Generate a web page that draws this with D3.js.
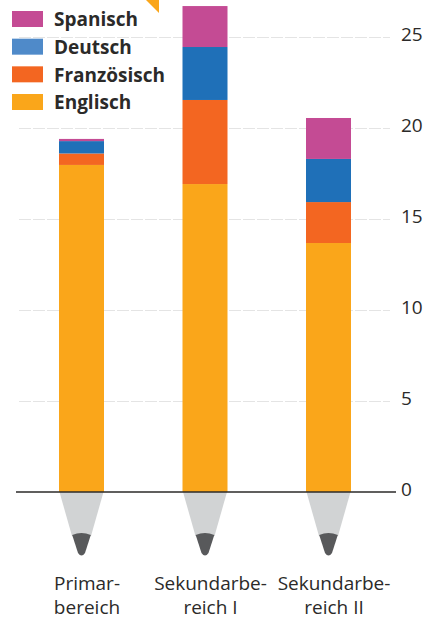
<!DOCTYPE html>
<html lang="de">
<head>
<meta charset="UTF-8">
<title>Fremdsprachen</title>
<script src="https://cdn.jsdelivr.net/npm/d3@7/dist/d3.min.js"></script>
<style>
    html, body { margin: 0; padding: 0; background: #fff; }
    svg { display: block; }
    text { font-family: "Open Sans", "Noto Sans", sans-serif; fill: #2b2a29; }
</style>
</head>
<body>
<svg id="chart" width="433" height="620"></svg>
<script>
    // values
    const categories = ["Primarbereich", "Sekundarbereich I", "Sekundarbereich II"];
    const categoryLines = [["Primar-", "bereich"], ["Sekundarbe-", "reich I"], ["Sekundarbe-", "reich II"]];
    const seriesNames = ["Englisch", "Französisch", "Deutsch", "Spanisch"];
    const englisch = [17.97, 16.92, 13.68];
    const franzoesisch = [0.63, 4.62, 2.25];
    const deutsch = [0.68, 2.91, 2.37];
    const spanisch = [0.12, 2.25, 2.25];
    const seriesValues = [englisch, franzoesisch, deutsch, spanisch];
    const barColors = ["#faa61a", "#f36621", "#1f70b8", "#c44b94"];
    const legendColors = ["#faa61a", "#f36621", "#4f8ac9", "#c44b94"];
    const yTicks = [0, 5, 10, 15, 20, 25];

    const svg = d3.select("#chart");

    const y = d3.scaleLinear().domain([0, 25]).range([492, 37]);
    const x = d3.scalePoint().domain(categories).range([81.5, 328.5]);
    const barWidth = 45;

    // pale grid
    svg.append("g").selectAll("line")
        .data(yTicks.filter(d => d > 0))
        .join("line")
        .attr("x1", 19)
        .attr("x2", 390)
        .attr("y1", d => y(d) + 0.5)
        .attr("y2", d => y(d) + 0.5)
        .attr("stroke", "#e4e4e4")
        .attr("stroke-width", 1)
        .attr("stroke-dasharray", "12 2");

    // the orange corner poking out of the top
    svg.append("path")
        .attr("d", "M146,0L159,0L159,13Z")
        .attr("fill", barColors[0]);

    // stacked bars
    const stacked = d3.stack().keys(d3.range(seriesNames.length)).value((row, k) => row[k])(
        categories.map((c, i) => seriesValues.map(s => s[i]))
    );

    svg.append("g").selectAll("g")
        .data(stacked)
        .join("g")
        .attr("fill", (d, i) => barColors[i])
        .selectAll("rect")
        .data(d => d)
        .join("rect")
        .attr("x", (d, i) => x(categories[i]) - barWidth / 2)
        .attr("width", barWidth)
        .attr("y", d => y(d[1]))
        .attr("height", d => y(d[0]) - y(d[1]));

    // pencil tips under every bar
    const tips = svg.append("g").selectAll("g")
        .data(categories)
        .join("g")
        .attr("transform", d => `translate(${x(d)},${y(0)})`);

    tips.append("path")
        .attr("d", "M-22,0L22,0L9.5,44L-9.5,44Z")
        .attr("fill", "#d1d3d4");

    tips.append("path")
        .attr("d", "M-9.3,43Q0,39 9.3,43L3.5,61Q0,66 -3.5,61Z")
        .attr("fill", "#58595b");

    // zero line
    svg.append("line")
        .attr("x1", 16)
        .attr("x2", 396)
        .attr("y1", y(0))
        .attr("y2", y(0))
        .attr("stroke", "#2b2a29")
        .attr("stroke-width", 1.5);

    // tick labels
    svg.append("g").selectAll("text")
        .data(yTicks)
        .join("text")
        .attr("x", 401)
        .attr("y", d => y(d) - 3)
        .attr("dy", "0.35em")
        .attr("font-size", 19)
        .text(d => d);

    // category labels
    const labels = svg.append("g").selectAll("text")
        .data(categories)
        .join("text")
        .attr("text-anchor", "middle")
        .attr("font-size", 19)
        .attr("transform", d => `translate(${x(d) + 5.5},0)`);

    labels.selectAll("tspan")
        .data((d, i) => categoryLines[i])
        .join("tspan")
        .attr("x", 0)
        .attr("y", (d, i) => 590 + i * 23.5)
        .text(d => d);

    // legend, Spanisch on top
    const legendY = d3.scalePoint().domain(seriesNames.slice().reverse()).range([19, 102]);

    const legend = svg.append("g").selectAll("g")
        .data(seriesNames)
        .join("g")
        .attr("transform", d => `translate(12,${legendY(d)})`);

    legend.append("rect")
        .attr("y", -8)
        .attr("width", 31)
        .attr("height", 16)
        .attr("fill", (d, i) => legendColors[i]);

    legend.append("text")
        .attr("x", 42)
        .attr("dy", "0.38em")
        .attr("font-size", 19)
        .attr("font-weight", 700)
        .text(d => d);
</script>
</body>
</html>
